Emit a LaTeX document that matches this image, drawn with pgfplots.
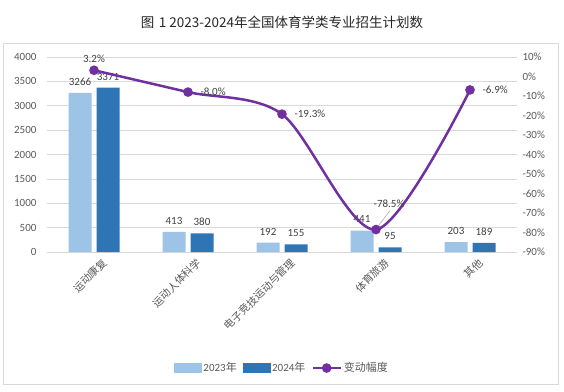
\documentclass[border=0pt]{standalone}
\usepackage{pgfplots}
\pgfplotsset{compat=1.18}
\usepackage{fontspec}
\setmainfont{Carlito}
\newfontfamily\cjk{Noto Sans CJK SC}
\definecolor{c23}{HTML}{9DC3E6}
\definecolor{c24}{HTML}{2E75B6}
\definecolor{cline}{HTML}{7030A0}
\definecolor{gridc}{HTML}{D9D9D9}
\definecolor{txt}{HTML}{595959}
\definecolor{lbl}{HTML}{404040}
\begin{document}
\begin{tikzpicture}[x=1pt,y=1pt]
\path (0,0) rectangle (564,391);
\draw[gridc, line width=0.75pt] (3,7) rectangle (558,348);
\node[font=\cjk\fontsize{13.5}{16}\selectfont, text=black!85] at (282,369) {图\,\,1 2023-2024年全国体育学类专业招生计划数};

\begin{axis}[
  at={(47pt,139pt)}, anchor=south west,
  scale only axis, width=470pt, height=195pt,
  xmin=-0.5, xmax=4.5, ymin=0, ymax=4000,
  ybar=5pt, bar width=23pt,
  xtick={0,1,2,3,4},
  xticklabels={运动康复,运动人体科学,电子竞技运动与管理,体育旅游,其他},
  xticklabel style={font=\cjk\fontsize{10.5}{12}\selectfont, rotate=45, anchor=east, text=txt, yshift=-14pt, xshift=5pt},
  ytick={0,500,1000,1500,2000,2500,3000,3500,4000},
  yticklabels={0,500,1000,1500,2000,2500,3000,3500,4000},
  yticklabel style={font=\fontsize{11}{13}\selectfont, text=txt, xshift=-7pt},
  ymajorgrids, grid style={gridc, line width=0.75pt},
  axis x line*=bottom, axis y line*=left,
  x axis line style={gridc, line width=0.75pt, -},
  y axis line style={draw=none},
  major tick length=0,
  clip=false,
  nodes near coords={\pgfmathprintnumber[assume math mode=true, 1000 sep={}]{\pgfplotspointmeta}},
  nodes near coords style={font=\fontsize{11}{13}\selectfont, text=lbl, anchor=south, yshift=4pt},
]
\addplot[fill=c23, draw=none] coordinates {(0,3266)(1,413)(2,192)(3,441)(4,203)};
\addplot[fill=c24, draw=none] coordinates {(0,3371)(1,380)(2,155)(3,95)(4,189)};
\end{axis}

\begin{axis}[
  at={(47pt,139pt)}, anchor=south west,
  scale only axis, width=470pt, height=195pt,
  xmin=-0.5, xmax=4.5, ymin=-90, ymax=10,
  axis x line=none, axis y line*=right,
  y axis line style={draw=none},
  ytick={-90,-80,-70,-60,-50,-40,-30,-20,-10,0,10},
  yticklabels={-90\%,-80\%,-70\%,-60\%,-50\%,-40\%,-30\%,-20\%,-10\%,0\%,10\%},
  yticklabel style={font=\fontsize{11}{13}\selectfont, text=txt, xshift=2pt},
  major tick length=0,
  clip=false,
  legend style={at={(0.5,-0.595)}, anchor=center, legend columns=3, draw=none, fill=none,
    font=\fontsize{11}{13}\selectfont, text=txt,
    /tikz/every even column/.append style={column sep=4pt},
    /tikz/every odd column/.append style={column sep=0pt}},
  legend cell align=left,
]
\addlegendimage{legend image code/.code={\fill[c23] (0pt,-4.5pt) rectangle (27pt,4.5pt);}}
\addlegendentry{2023{\cjk 年}}
\addlegendimage{legend image code/.code={\fill[c24] (0pt,-4.5pt) rectangle (27pt,4.5pt);}}
\addlegendentry{2024{\cjk 年}}
\addplot[cline, line width=2.5pt, smooth, mark=*, mark size=3.5pt,
  legend image code/.code={\draw[cline, line width=2.5pt] (0pt,0pt) -- (28pt,0pt); \fill[cline] (14pt,0pt) circle (3.5pt);}]
  coordinates {(0,3.2)(1,-8.0)(2,-19.3)(3,-78.5)(4,-6.9)};
\addlegendentry{{\cjk 变动幅度}}
\node[font=\fontsize{11}{13}\selectfont, text=lbl, anchor=south] at (axis cs:0,3.2) [yshift=4pt] {3.2\%};
\node[font=\fontsize{11}{13}\selectfont, text=lbl, anchor=west] at (axis cs:1,-8.0) [xshift=9pt] {-8.0\%};
\node[font=\fontsize{11}{13}\selectfont, text=lbl, anchor=west] at (axis cs:2,-19.3) [xshift=9pt] {-19.3\%};
\node[font=\fontsize{11}{13}\selectfont, text=lbl, anchor=west] at (axis cs:4,-6.9) [xshift=9pt] {-6.9\%};
\node[font=\fontsize{11}{13}\selectfont, text=lbl, anchor=south] at (axis cs:3,-78.5) [xshift=13pt, yshift=18pt] {-78.5\%};
\draw[gray!70, line width=0.5pt] (axis cs:3,-78.5) ++(1pt,2pt) -- ++(13pt,17pt);
\end{axis}
\end{tikzpicture}
\end{document}
